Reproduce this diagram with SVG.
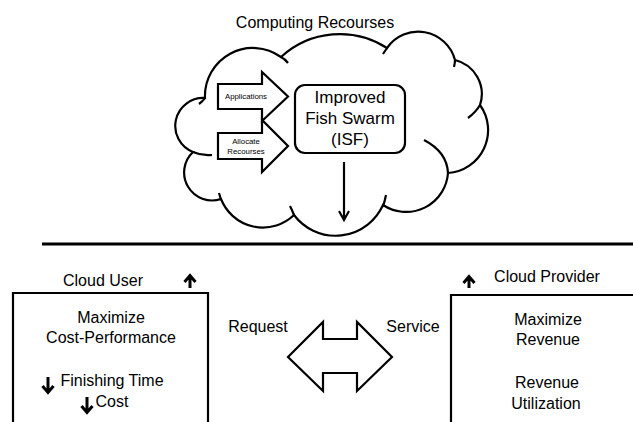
<svg xmlns="http://www.w3.org/2000/svg" width="633" height="422" viewBox="0 0 633 422">
<style>
text{font-family:"Liberation Sans",Arial,sans-serif;fill:#000;}
.t16{font-size:16px;}
.t17{font-size:17px;}
.t8{font-size:7.8px;}
.ln{fill:none;stroke:#000;stroke-width:2.2;}
.sh{fill:#fff;stroke:#000;stroke-width:2.2;stroke-linejoin:miter;}
.ar{fill:none;stroke:#000;stroke-width:3;stroke-linejoin:miter;}
</style>
<rect width="633" height="422" fill="#fff"/>
<g id="cloud">
<path class="sh" d="M205,98 A48,48 0 0 1 281,57 A87,87 0 0 1 387,48 A38,38 0 0 1 455,60 A35,35 0 0 1 480,105 A43,43 0 0 1 448,173 A42,42 0 0 1 383,205 A52,52 0 0 1 294,215 A45,45 0 0 1 221,199 A28,28 0 0 1 193,152 A28,28 0 0 1 205,98 Z"/>
<path class="ln" d="M281,57 Q285,59 288,63 M387,48 Q385,51 383,54 M455,60 Q455,63 454,67 M480,105 Q476,112 468,118 M424,140 Q447,152 448,173 M383,207 Q385,200 386,195 M294,215 Q292,210 290,206 M221,200 Q220,196 219,193 M193,152 Q202,156 212,155 M205,98 Q203,101 199,104"/>
<text class="t16" x="315" y="28" text-anchor="middle">Computing Recourses</text>
</g>
<g id="applications">
<path class="sh" d="M218,84 H262 V72 L288,96.5 L262,121 V109 H218 Z"/>
<text class="t8" x="246" y="99" text-anchor="middle">Applications</text>
</g>
<g id="allocate">
<path class="sh" d="M218,133 H262 V120 L288,146 L262,172 V159 H218 Z"/>
<text class="t8" x="246" y="144" text-anchor="middle">Allocate</text>
<text class="t8" x="246" y="154" text-anchor="middle">Recourses</text>
</g>
<g id="isf">
<rect class="sh" x="295" y="85" width="110" height="68" rx="10"/>
<text class="t17" x="350" y="103" text-anchor="middle">Improved</text>
<text class="t17" x="350" y="124" text-anchor="middle">Fish Swarm</text>
<text class="t17" x="350" y="145" text-anchor="middle">(ISF)</text>
</g>
<g id="divider">
<line x1="42" y1="244" x2="633" y2="244" stroke="#000" stroke-width="3.2"/>
</g>
<g id="cloud-user">
<path class="ln" d="M13,422 V293 H208 V422"/>
<text class="t16" x="103" y="286" text-anchor="middle">Cloud User</text>
<text class="t16" x="111" y="323" text-anchor="middle">Maximize</text>
<text class="t16" x="111" y="343" text-anchor="middle">Cost-Performance</text>
<text class="t16" x="112" y="386" text-anchor="middle">Finishing Time</text>
<text class="t16" x="112" y="407" text-anchor="middle">Cost</text>
<path class="ar" d="M190,288 V276 M184.5,282 L190,275.5 L195.5,282"/>
<path class="ar" d="M48,377 V392 M42.5,386 L48,392.5 L53.5,386"/>
<path class="ar" d="M87,397 V412 M81.5,406 L87,412.5 L92.5,406"/>
</g>
<g id="cloud-provider">
<path class="ln" d="M451,422 V295 H633"/>
<text class="t16" x="547" y="282" text-anchor="middle">Cloud Provider</text>
<text class="t16" x="548" y="325" text-anchor="middle">Maximize</text>
<text class="t16" x="548" y="345" text-anchor="middle">Revenue</text>
<text class="t16" x="547" y="388" text-anchor="middle">Revenue</text>
<text class="t16" x="546" y="409" text-anchor="middle">Utilization</text>
<path class="ar" d="M469,288 V277 M463.5,283 L469,276.5 L474.5,283"/>
</g>
<g id="connectors">
<path class="ln" d="M344,162 V219 M339,211 L344,220 L349,211"/>
<path class="sh" d="M288,357 L323,322 V339 H357 V322 L392,357 L357,391 V373 H323 V391 Z"/>
<text class="t16" x="258" y="332" text-anchor="middle">Request</text>
<text class="t16" x="413" y="332" text-anchor="middle">Service</text>
</g>
</svg>
